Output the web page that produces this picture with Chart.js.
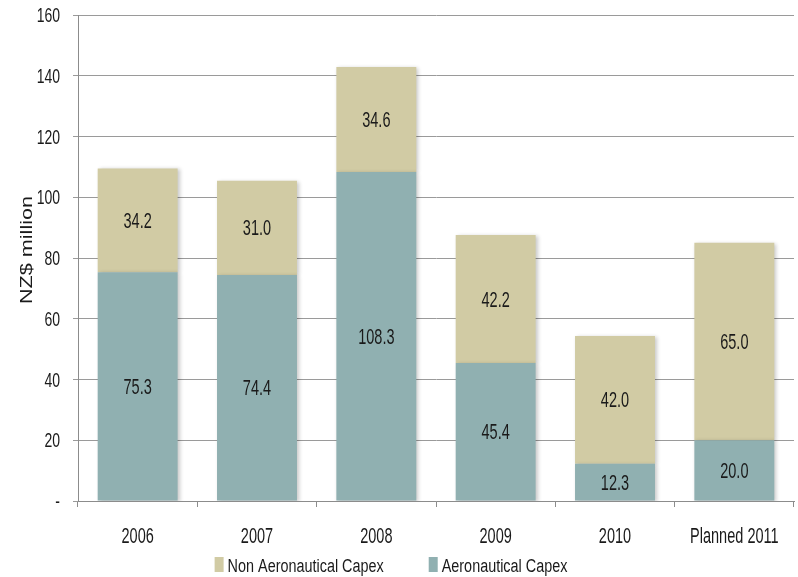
<!DOCTYPE html>
<html>
<head>
<meta charset="utf-8">
<title>Capex by year</title>
<script src="https://cdn.jsdelivr.net/npm/chart.js@4.4.1/dist/chart.umd.min.js"></script>
<style>
  html, body { margin: 0; padding: 0; background: #ffffff; }
  #wrap { width: 798px; height: 577px; }
</style>
</head>
<body>
<div id="wrap"><canvas id="capex"></canvas></div>
<script>
// Capital expenditure, NZ$ million
const years = ['2006', '2007', '2008', '2009', '2010', 'Planned 2011'];
const aeronautical = [75.3, 74.4, 108.3, 45.4, 12.3, 20.0];
const nonAeronautical = [34.2, 31.0, 34.6, 42.2, 42.0, 65.0];
const yTicks = [0, 20, 40, 60, 80, 100, 120, 140, 160];
const yTitle = 'NZ$ million';

const FONT = "'Liberation Sans', Arial, sans-serif";
const INK = '#1a1a1a';

// Tall, narrow lettering: text is drawn with a horizontal squeeze
function drawText(ctx, text, x, y, opts) {
  ctx.save();
  ctx.translate(x, y);
  if (opts.rotate) ctx.rotate(opts.rotate);
  ctx.scale(opts.sx || 1, opts.sy || 1);
  ctx.font = opts.size + 'px ' + FONT;
  ctx.fillStyle = INK;
  ctx.textAlign = opts.align || 'center';
  ctx.textBaseline = opts.baseline || 'middle';
  ctx.fillText(text, 0, 0);
  ctx.restore();
}

function textWidth(ctx, text, size, sx) {
  ctx.save();
  ctx.font = size + 'px ' + FONT;
  const w = ctx.measureText(text).width * sx;
  ctx.restore();
  return w;
}

// Soft drop shadow behind each bar segment
const barShadow = {
  id: 'barShadow',
  beforeDatasetDraw(chart) {
    const ctx = chart.ctx;
    ctx.save();
    ctx.shadowColor = 'rgba(0,0,0,0.22)';
    ctx.shadowBlur = 4;
    ctx.shadowOffsetX = 2;
    ctx.shadowOffsetY = 1;
  },
  afterDatasetDraw(chart) {
    chart.ctx.restore();
  }
};

// Axis labels, axis title, segment values and legend
const textLayer = {
  id: 'textLayer',
  afterDraw(chart) {
    const ctx = chart.ctx;
    const xs = chart.scales.x;
    const ys = chart.scales.y;

    // y tick labels (zero shown as a dash)
    yTicks.forEach(v => {
      const py = ys.getPixelForValue(v);
      drawText(ctx, v === 0 ? '-' : String(v), 60, py + 1.5,
        { size: 20, sx: 0.7, align: 'right' });
    });

    // category labels
    years.forEach((label, i) => {
      const px = xs.getPixelForTick(i);
      drawText(ctx, label, px, 543,
        { size: 22, sx: 0.66, align: 'center', baseline: 'alphabetic' });
    });

    // rotated axis title
    const midY = (chart.chartArea.top + chart.chartArea.bottom) / 2 - 8;
    drawText(ctx, yTitle, 28, midY,
      { size: 16, sx: 1.35, rotate: -Math.PI / 2, align: 'center' });

    // value inside each stacked segment
    chart.data.datasets.forEach((ds, di) => {
      const meta = chart.getDatasetMeta(di);
      meta.data.forEach((bar, i) => {
        const p = bar.getProps(['x', 'y', 'base'], true);
        drawText(ctx, ds.data[i].toFixed(1), p.x, (p.y + p.base) / 2 + 1.5,
          { size: 22, sx: 0.66 });
      });
    });

    // legend, listed top series first
    const items = chart.data.datasets.slice().reverse();
    const size = 18, sx = 0.8, box = 9, gapBox = 4, gapItem = 45;
    const widths = items.map(d => textWidth(ctx, d.label, size, sx));
    let total = 0;
    widths.forEach((w, i) => { total += box + gapBox + w + (i < widths.length - 1 ? gapItem : 0); });
    let lx = chart.width / 2 - 8 - total / 2;
    items.forEach((d, i) => {
      ctx.save();
      ctx.fillStyle = d.backgroundColor;
      ctx.fillRect(lx, 557, box, 15);
      ctx.restore();
      drawText(ctx, d.label, lx + box + gapBox, 572,
        { size: size, sx: sx, align: 'left', baseline: 'alphabetic' });
      lx += box + gapBox + widths[i] + gapItem;
    });
  }
};

new Chart(document.getElementById('capex'), {
  type: 'bar',
  data: {
    labels: years,
    datasets: [
      {
        label: 'Aeronautical Capex',
        data: aeronautical,
        backgroundColor: '#90B0B1',
        borderWidth: 0
      },
      {
        label: 'Non Aeronautical Capex',
        data: nonAeronautical,
        backgroundColor: '#D1CBA4',
        borderWidth: 0
      }
    ]
  },
  options: {
    responsive: true,
    maintainAspectRatio: false,
    animation: false,
    layout: { padding: { left: 0, right: 4, top: 15, bottom: 70 } },
    datasets: {
      bar: { categoryPercentage: 1.0, barPercentage: 0.67 }
    },
    scales: {
      x: {
        stacked: true,
        grid: {
          display: true,
          drawOnChartArea: false,
          drawTicks: true,
          tickLength: 6,
          color: '#8c8c8c',
          offset: true
        },
        border: { display: true, color: '#8c8c8c', width: 1 },
        ticks: { display: false, autoSkip: false }
      },
      y: {
        stacked: true,
        min: 0,
        max: 160,
        afterBuildTicks(scale) {
          scale.ticks = yTicks.map(v => ({ value: v }));
        },
        afterFit(scale) { scale.width = 78; },
        grid: {
          color: '#9a9a9a',
          lineWidth: 1,
          tickLength: 5,
          drawTicks: true
        },
        border: { display: true, color: '#8c8c8c', width: 1 },
        ticks: { display: false },
        title: { display: false }
      }
    },
    plugins: {
      legend: { display: false },
      tooltip: { enabled: false }
    }
  },
  plugins: [barShadow, textLayer]
});
</script>
</body>
</html>
